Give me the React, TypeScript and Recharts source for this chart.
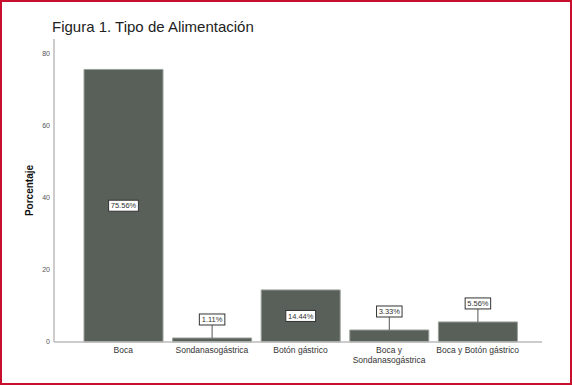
import { BarChart, Bar, XAxis, YAxis, LabelList } from 'recharts';

const categories = ['Boca', 'Sondanasogástrica', 'Botón gástrico', 'Boca y Sondanasogástrica', 'Boca y Botón gástrico'];
const percentages = [75.56, 1.11, 14.44, 3.33, 5.56];
const yTicks = [0, 20, 40, 60, 80];

const data = categories.map((name, i) => ({ name, value: percentages[i] }));

const FONT = '"Liberation Sans", Arial, sans-serif';

function wrap(text: string, maxChars: number) {
  const words = text.split(' ');
  const lines: string[] = [];
  let cur = '';
  for (const w of words) {
    const next = cur ? cur + ' ' + w : w;
    if (next.length > maxChars && cur) {
      lines.push(cur);
      cur = w;
    } else {
      cur = next;
    }
  }
  if (cur) lines.push(cur);
  return lines;
}

function CategoryTick(props: any) {
  const { x, y, payload } = props;
  const lines = wrap(String(payload.value), 21);
  return (
    <text x={x} y={y} textAnchor="middle" fontSize={8.5} fill="#333" fontFamily={FONT}>
      {lines.map((l, i) => (
        <tspan key={i} x={x} dy={i === 0 ? 11 : 9.5}>{l}</tspan>
      ))}
    </text>
  );
}

function ValueLabel(props: any) {
  const { x, y, width, height, value } = props;
  const text = Number(value).toFixed(2) + '%';
  const cx = x + width / 2;
  const bw = text.length * 4.3 + 4;
  const bh = 11;
  if (height > 30) {
    const cy = y + height / 2;
    return (
      <g>
        <rect x={cx - bw / 2} y={cy - bh / 2} width={bw} height={bh} fill="#fff" stroke="#333" strokeWidth={1} />
        <text x={cx} y={cy + 2.7} textAnchor="middle" fontSize={7.5} fill="#333" fontFamily={FONT}>{text}</text>
      </g>
    );
  }
  const bottom = y - 13;
  return (
    <g>
      <line x1={cx} x2={cx} y1={bottom} y2={y} stroke="#555" strokeWidth={1} />
      <rect x={cx - bw / 2} y={bottom - bh} width={bw} height={bh} fill="#fff" stroke="#333" strokeWidth={1} />
      <text x={cx} y={bottom - bh / 2 + 2.7} textAnchor="middle" fontSize={7.5} fill="#333" fontFamily={FONT}>{text}</text>
    </g>
  );
}

export default function App() {
  return (
    <div style={{ position: 'absolute', left: 0, top: 0, width: 572, height: 385, background: '#fff', fontFamily: FONT }}>
      <div style={{ position: 'absolute', left: 52, top: 19, fontSize: 15, lineHeight: 1, color: '#222', whiteSpace: 'nowrap' }}>
        Figura 1. Tipo de Alimentación
      </div>
      <BarChart width={572} height={385} data={data} margin={{ top: 39, right: 30, bottom: 13, left: 0 }}>
        <XAxis
          dataKey="name"
          height={30}
          padding={{ left: 25, right: 20 }}
          tickLine={false}
          tickSize={0}
          tickMargin={0}
          interval={0}
          axisLine={{ stroke: '#bbb', strokeWidth: 1.5 }}
          tick={<CategoryTick />}
        />
        <YAxis
          width={54}
          domain={[0, 84]}
          ticks={yTicks}
          tickLine={false}
          tickSize={0}
          tickMargin={4}
          axisLine={{ stroke: '#bbb', strokeWidth: 1.5 }}
          tick={{ fontSize: 7, fill: '#555', fontFamily: FONT }}
          label={{
            value: 'Porcentaje',
            angle: -90,
            position: 'insideLeft',
            offset: 29,
            style: { textAnchor: 'middle', fontSize: 10, fontWeight: 'bold', fill: '#111', fontFamily: FONT },
          }}
        />
        <Bar dataKey="value" fill="#596059" stroke="#9aa09a" strokeWidth={1} barSize={79} isAnimationActive={false}>
          <LabelList dataKey="value" content={<ValueLabel />} />
        </Bar>
      </BarChart>
      <div style={{ position: 'absolute', inset: 0, border: '2px solid #c8102e', pointerEvents: 'none' }} />
    </div>
  );
}
